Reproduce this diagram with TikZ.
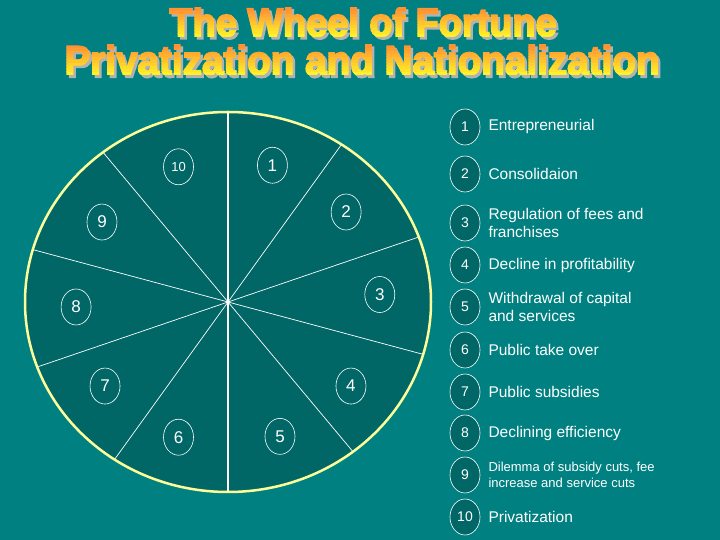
\documentclass[tikz,border=0pt]{standalone}
\usepackage{fontspec}
\setmainfont{Liberation Sans}
\newfontfamily\titlefont[FakeBold=4]{Liberation Sans}
\usetikzlibrary{positioning,shapes.geometric,calc}
\definecolor{bgteal}{RGB}{0,128,128}
\definecolor{wheelteal}{RGB}{0,102,102}
\definecolor{rimyellow}{RGB}{255,255,153}
\definecolor{titletop}{RGB}{255,145,50}
\definecolor{titlebot}{RGB}{255,240,40}
\tikzset{
  num/.style={ellipse,draw=white,line width=.6pt,fill=wheelteal,text=white,
    minimum width=30pt,minimum height=36pt,inner sep=0pt},
  wheel num/.style={num,font=\fontsize{#1}{#1}\selectfont},
  key num/.style={num,font=\fontsize{14}{14}\selectfont},
  item/.style={text=white,align=left,inner sep=0pt,font=\fontsize{15.5}{18}\selectfont},
  small item/.style={item,font=\fontsize{13}{16}\selectfont},
  spoke/.style={white,line width=.7pt},
}
\newcommand\lineone{\resizebox{387pt}{29pt}{\titlefont\bfseries The Wheel of Fortune}}
\newcommand\linetwo{\resizebox{595pt}{30pt}{\titlefont\bfseries Privatization and Nationalization}}

\begin{document}
\begin{tikzpicture}[x=1pt,y=1pt]
  \fill[bgteal] (0,0) rectangle (720,540);
  \useasboundingbox (0,0) rectangle (720,540);

  % title: shadow, then the text again in thin colour bands
  \node[text=gray!60,inner sep=0pt] (shadow1) at (365.5,515.5) {\lineone};
  \node[text=gray!60,inner sep=0pt] (shadow2) at (364.5,477.5) {\linetwo};
  \foreach \i in {0,...,9} {
    \pgfmathsetmacro\p{100-\i*11}
    \begin{scope}
      \clip (60,{503.5+\i*2.9}) rectangle (665,{503.5+(\i+1)*2.9+.3});
      \node[text=titlebot!\p!titletop,inner sep=0pt] at (363,518) {\lineone};
    \end{scope}
    \begin{scope}
      \clip (60,{465+\i*3}) rectangle (665,{465+(\i+1)*3+.3});
      \node[text=titlebot!\p!titletop,inner sep=0pt] at (362,480) {\linetwo};
    \end{scope}
  }

  % the wheel
  \coordinate (c) at (228,238);
  \fill[wheelteal] (c) ellipse [x radius=203,y radius=190];
  \foreach \a in {56,20,-16,-52}
    \draw[spoke] ($(c)+(\a:203 and 190)$) -- ($(c)+(\a+180:203 and 190)$);
  \draw[white,line width=1.8pt] ($(c)+(0,190)$) -- ($(c)-(0,190)$);
  \draw[rimyellow,line width=2.5pt] (c) ellipse [x radius=203,y radius=190];
  \foreach \n/\a/\s in {1/73/17,2/39/17,3/3/17,4/-36/17,5/-70/17,6/251/17,7/216/17,8/182/17,9/146/17,10/109/13}
    \node[wheel num=\s] (w\n) at ($(c)+(\a:152 and 143)$) {\n};

  % key
  \foreach \n/\y in {1/413,2/366,3/317,4/275,5/233,6/190,7/148,8/107,9/65,10/23}
    \node[key num] (l\n) at (465,\y) {\n};
  \node[item,right=8pt of l1] (t1) {Entrepreneurial};
  \node[item,right=8pt of l2] (t2) {Consolidaion};
  \node[item,right=8pt of l3] (t3) {Regulation of fees and\\franchises};
  \node[item,right=8pt of l4] (t4) {Decline in profitability};
  \node[item,right=8pt of l5] (t5) {Withdrawal of capital\\and services};
  \node[item,right=8pt of l6] (t6) {Public take over};
  \node[item,right=8pt of l7] (t7) {Public subsidies};
  \node[item,right=8pt of l8] (t8) {Declining efficiency};
  \node[small item,right=8pt of l9] (t9) {Dilemma of subsidy cuts, fee\\increase and service cuts};
  \node[item,right=8pt of l10] (t10) {Privatization};
\end{tikzpicture}
\end{document}
